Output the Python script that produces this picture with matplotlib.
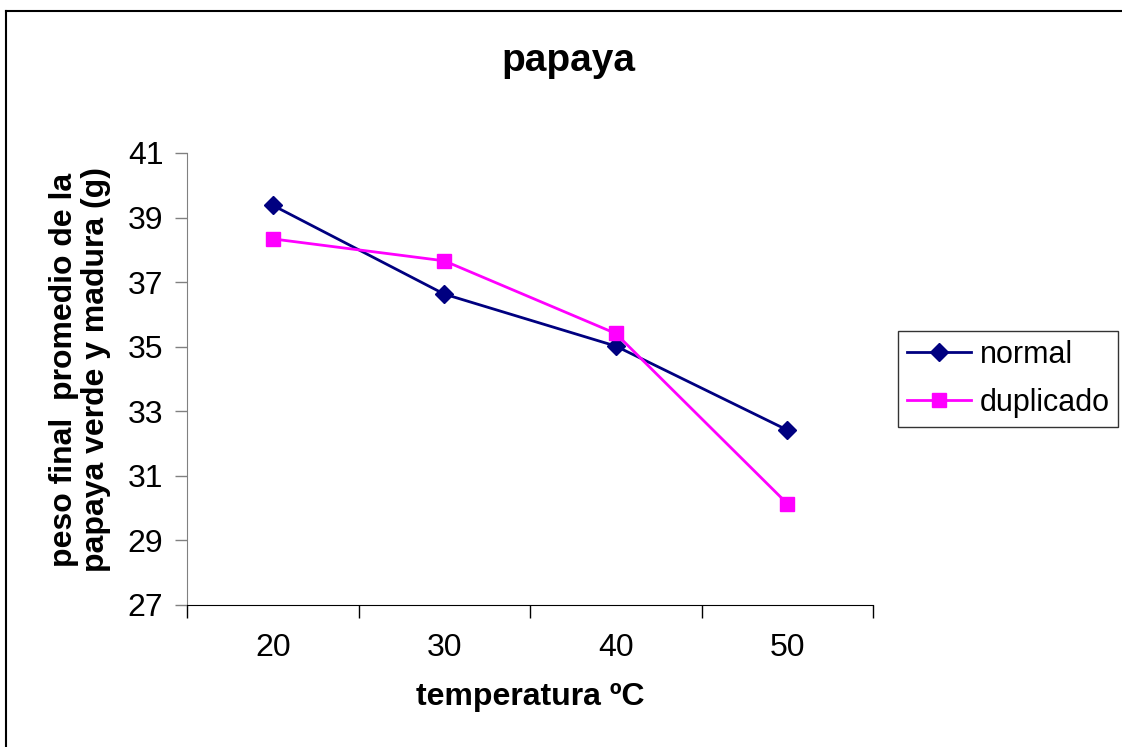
import matplotlib
matplotlib.use('Agg')
import matplotlib.pyplot as plt
from matplotlib.lines import Line2D
from matplotlib.transforms import blended_transform_factory

temps = ['20', '30', '40', '50']
normal = [39.38, 36.63, 35.02, 32.42]
duplicado = [38.34, 37.66, 35.41, 30.14]
yticks = [27, 29, 31, 33, 35, 37, 39, 41]

plt.rcParams['font.family'] = ['Liberation Sans', 'DejaVu Sans']

fig = plt.figure(figsize=(11.22, 7.47), dpi=100)
W, H = 1122, 747
ax = fig.add_axes([187 / W, 1 - 605 / H, (873 - 187) / W, (605 - 153) / H])

x = list(range(1, len(temps) + 1))
ax.plot(x, normal, '-', color='#000080', lw=2, marker='D', ms=9,
        mec='#000080', mfc='#000080', label='normal', clip_on=False)
ax.plot(x, duplicado, '-', color='#ff00ff', lw=2, marker='s', ms=10,
        mec='#ff00ff', mfc='#ff00ff', label='duplicado', clip_on=False)

ax.set_xlim(0.5, len(temps) + 0.5)
ax.set_ylim(27, 41)
ax.set_yticks(yticks)
# category axis: ticks sit between categories, labels in the middle
ax.set_xticks([i + 0.5 for i in range(0, len(temps) + 1)])
ax.set_xticklabels([])
row = blended_transform_factory(ax.transData, fig.transFigure)
for xi, t in zip(x, temps):
    ax.text(xi, 1 - 648 / H, t, transform=row, ha='center', va='center',
            fontsize=23)
ax.tick_params(axis='y', direction='out', length=9, width=1, color='#808080',
               labelsize=23, pad=8)
ax.tick_params(axis='x', direction='out', length=9, width=1, color='black')
for s in ('top', 'right'):
    ax.spines[s].set_visible(False)
ax.spines['left'].set_color('#808080')
ax.spines['bottom'].set_color('black')

fig.text(568 / W, 1 - 61 / H, 'papaya', fontsize=28, fontweight='bold',
         ha='center', va='center')
fig.text(530 / W, 1 - 697 / H, 'temperatura ºC', fontsize=23,
         fontweight='bold', ha='center', va='center')
fig.text(80 / W, 1 - 370 / H, 'peso final  promedio de la\npapaya verde y madura (g)',
         fontsize=23, fontweight='bold', ha='center', va='center',
         rotation=90, linespacing=1.1)

leg = ax.legend(loc='center left', bbox_to_anchor=(898 / W, 1 - 379 / H),
                bbox_transform=fig.transFigure, frameon=True, fancybox=False,
                edgecolor='black', fontsize=22, handlelength=2.1,
                handletextpad=0.3, borderpad=0.28, labelspacing=0.6,
                borderaxespad=0)
leg.get_frame().set_linewidth(1)

# outer chart border (only the left and top edges are visible)
fig.add_artist(Line2D([6 / W, 6 / W], [0, 1 - 11 / H], color='black', lw=1.5,
                      transform=fig.transFigure))
fig.add_artist(Line2D([6 / W, 1], [1 - 11 / H, 1 - 11 / H], color='black',
                      lw=1.5, transform=fig.transFigure))

fig.savefig('out.png', dpi=100)
